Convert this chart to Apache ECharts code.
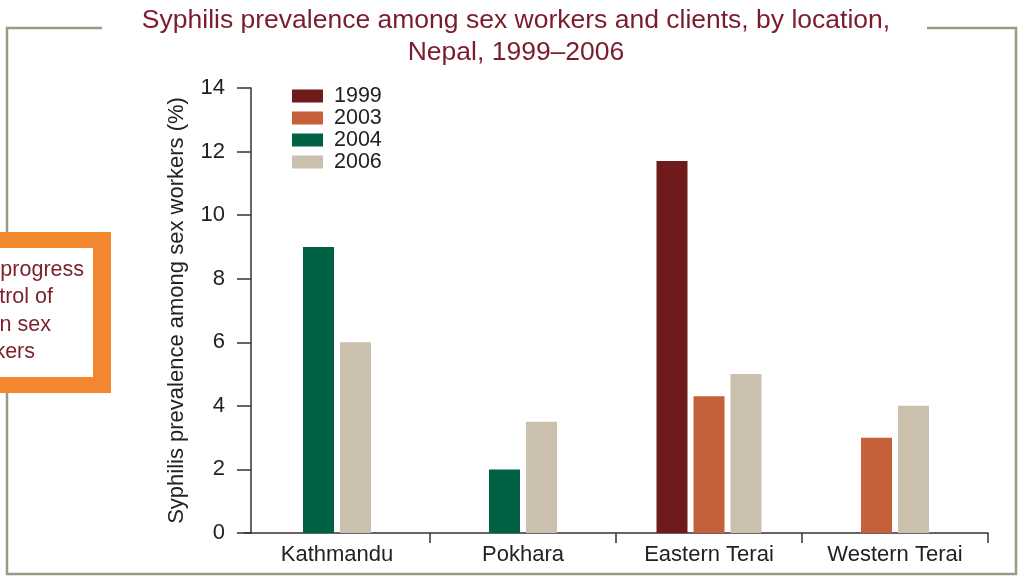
<!DOCTYPE html>
<html><head><meta charset="utf-8">
<script src="https://cdn.jsdelivr.net/npm/echarts@6/dist/echarts.min.js"></script>
<style>html,body{margin:0;padding:0;background:#fff}#c{width:1018px;height:579px}</style>
</head><body><div id="c"></div>
<script>
// ---- data ----
const categories = ['Kathmandu', 'Pokhara', 'Eastern Terai', 'Western Terai'];
const years = ['1999', '2003', '2004', '2006'];
const v1999 = [null, null, 11.7, null];
const v2003 = [null, null, 4.3, 3];
const v2004 = [9, 2, null, null];
const v2006 = [6, 3.5, 5, 4];
const yTicks = [0, 2, 4, 6, 8, 10, 12, 14];
const titleLines = ['Syphilis prevalence among sex workers and clients, by location,', 'Nepal, 1999–2006'];
const yName = 'Syphilis prevalence among sex workers (%)';
const sideLines = ['Monitoring progress', 'in the control of', 'syphilis in sex', 'workers'];

// ---- style ----
const colors = ['#6f1a1b', '#c4603a', '#016145', '#cbbfad'];
const FONT = "'Liberation Sans', Arial, Helvetica, sans-serif";
const seriesVals = [v1999, v2003, v2004, v2006];
const BW = 31, STEP = 37;

function makeRender(si) {
  return function (params, api) {
    const ci = api.value(0), val = api.value(1);
    const present = seriesVals.map((arr, k) => arr[ci] != null ? k : -1).filter(k => k >= 0);
    const n = present.length, k = present.indexOf(si);
    const p0 = api.coord([ci, 0]), p1 = api.coord([ci, val]);
    const cx = p0[0] + (k - (n - 1) / 2) * STEP;
    return {
      type: 'rect',
      shape: { x: cx - BW / 2, y: p1[1], width: BW, height: p0[1] - p1[1] },
      style: api.style()
    };
  };
}

const chart = echarts.init(document.getElementById('c'), null, { renderer: 'canvas' });
const frameColor = '#9a9a86';
const sideColor = '#7a1f2e';

const graphics = [
  { type: 'polyline', silent: true, z: 0,
    shape: { points: [[102, 28], [7, 28], [7, 574], [1016, 574], [1016, 28], [927, 28]] },
    style: { stroke: frameColor, lineWidth: 2.5, fill: null } },
  { type: 'rect', silent: true, z: 1, shape: { x: -20, y: 232, width: 131, height: 161 }, style: { fill: '#f3872f' } },
  { type: 'rect', silent: true, z: 2, shape: { x: -20, y: 248, width: 113, height: 129 }, style: { fill: '#ffffff' } }
];
const sideRight = [84, 53, 51, 35];
sideLines.forEach((t, i) => {
  graphics.push({ type: 'text', silent: true, z: 3, x: sideRight[i], y: 270 + i * 27.3,
    style: { text: t, fill: sideColor, font: '21.5px ' + FONT, textAlign: 'right', textVerticalAlign: 'middle' } });
});

chart.setOption({
  animation: false,
  backgroundColor: '#ffffff',
  textStyle: { fontFamily: FONT },
  title: {
    text: titleLines.join('\n'),
    left: 516, top: 5, textAlign: 'center', padding: 0,
    textStyle: { color: '#7b1c2c', fontSize: 26.5, fontWeight: 'normal', lineHeight: 32, fontFamily: FONT }
  },
  legend: {
    data: years, orient: 'vertical', left: 292, top: 85, padding: 0,
    icon: 'rect', itemWidth: 31, itemHeight: 13, itemGap: 0,
    textStyle: { fontSize: 21.5, lineHeight: 22, color: '#222', fontFamily: FONT, padding: [0, 0, 0, 6] },
    selectedMode: false
  },
  grid: { left: 244, right: 30, top: 88, bottom: 46, containLabel: false },
  xAxis: {
    type: 'category', data: categories, boundaryGap: true,
    axisLine: { lineStyle: { color: '#333', width: 1.5 } },
    axisTick: { show: true, length: 10, lineStyle: { color: '#333', width: 1.5 }, interval: (i) => i !== 0 },
    axisLabel: { fontSize: 22, color: '#222', margin: 11, fontFamily: FONT, interval: 0 },
    splitLine: { show: false }
  },
  yAxis: {
    type: 'value', min: yTicks[0], max: yTicks[yTicks.length - 1], interval: yTicks[1] - yTicks[0],
    offset: -7,
    name: yName, nameLocation: 'middle', nameGap: 63, nameRotate: 90,
    nameTextStyle: { fontSize: 22, color: '#222', fontFamily: FONT },
    axisLine: { show: true, lineStyle: { color: '#333', width: 1.5 } },
    axisTick: { show: true, length: 14, lineStyle: { color: '#333', width: 1.5 } },
    axisLabel: { fontSize: 22, color: '#222', margin: 26, fontFamily: FONT },
    splitLine: { show: false }
  },
  graphic: graphics,
  series: years.map((y, si) => ({
    type: 'custom', name: y,
    renderItem: makeRender(si),
    encode: { x: 0, y: 1 },
    itemStyle: { color: colors[si] },
    data: seriesVals[si].map((v, i) => v == null ? null : [i, v]).filter(d => d)
  }))
});
</script>
</body></html>
